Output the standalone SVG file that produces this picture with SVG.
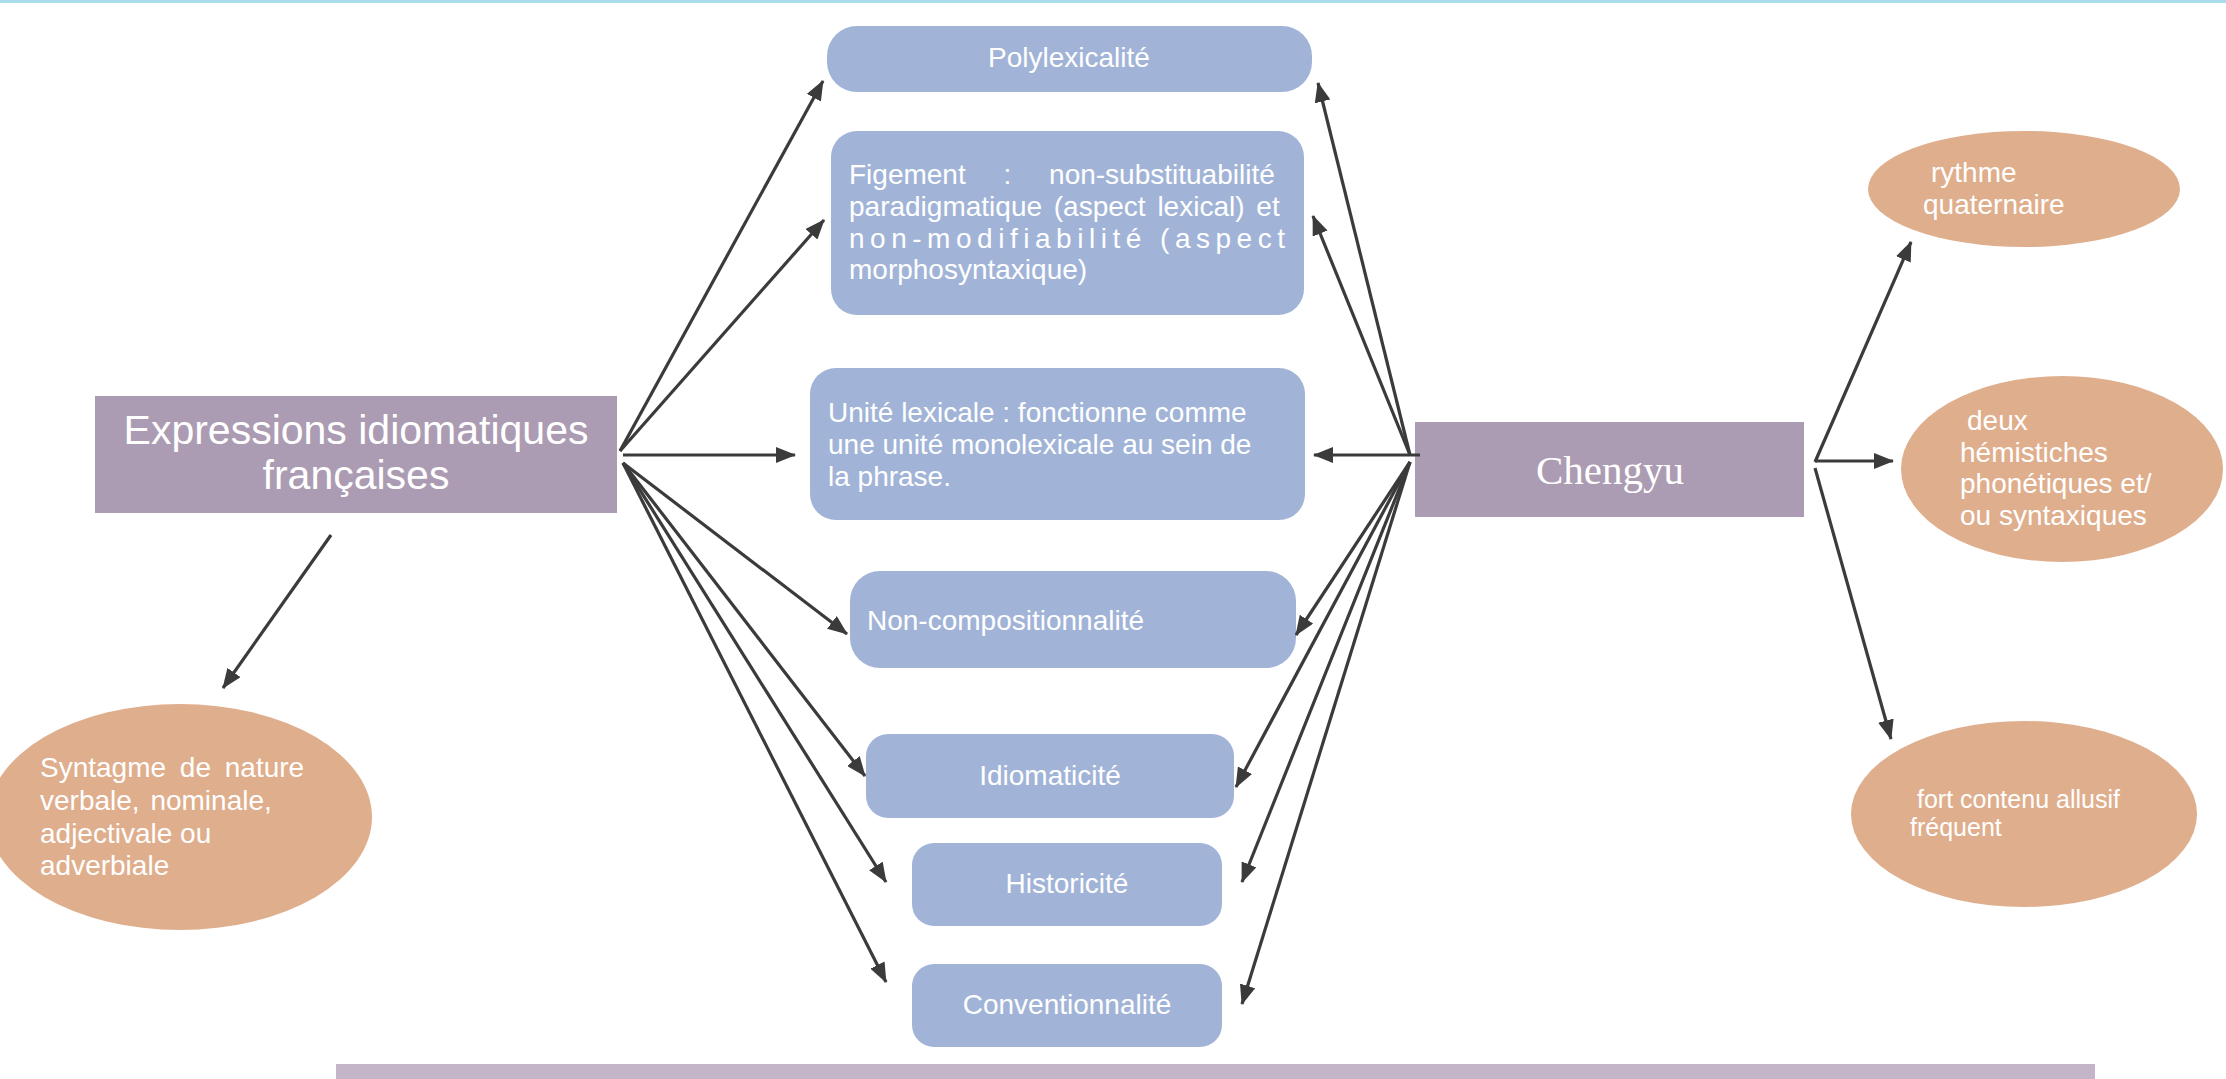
<svg xmlns="http://www.w3.org/2000/svg" width="2226" height="1079" viewBox="0 0 2226 1079">
<defs>
<marker id="ah" viewBox="0 0 20 16" refX="19" refY="8" markerWidth="20" markerHeight="16" markerUnits="userSpaceOnUse" orient="auto">
<path d="M0,0 L20,8 L0,16 z" fill="#3b3b3b"/>
</marker>
</defs>
<style>
.purple{fill:#ac9cb3}
.blue{fill:#a1b4d7}
.orange{fill:#dfae8d}
.t{font-family:"Liberation Sans",Arial,sans-serif;font-size:28px;fill:#ffffff}
.ts{font-family:"Liberation Sans",Arial,sans-serif;font-size:25px;fill:#ffffff}
.big{font-family:"Liberation Sans",Arial,sans-serif;font-size:41px;fill:#ffffff;text-anchor:middle}
.serif{font-family:"Liberation Serif","Times New Roman",serif;font-size:41px;fill:#ffffff;text-anchor:middle}
.c{text-anchor:middle}
.conn path{fill:none;stroke:#3b3b3b;stroke-width:3.2;marker-end:url(#ah)}
</style>
<rect x="0" y="0" width="2226" height="1079" fill="#ffffff"/>
<rect x="0" y="0" width="2226" height="3" fill="#a9dde9"/>
<rect x="336" y="1064" width="1759" height="15" fill="#c5b5c8"/>

<g id="expressions">
<rect class="purple" x="95" y="396" width="522" height="117"/>
<text class="big" x="356" y="444">Expressions idiomatiques</text>
<text class="big" x="356" y="489">françaises</text>
</g>

<g id="chengyu">
<rect class="purple" x="1415" y="422" width="389" height="95"/>
<text class="serif" x="1610" y="484">Chengyu</text>
</g>

<g id="polylexicalite">
<rect class="blue" x="827" y="26" width="485" height="66" rx="30"/>
<text class="t c" x="1069" y="67">Polylexicalité</text>
</g>

<g id="figement">
<rect class="blue" x="831" y="131" width="473" height="184" rx="26"/>
<text class="t" x="849" y="184" word-spacing="30">Figement : non-substituabilité</text>
<text class="t" x="849" y="216" word-spacing="4">paradigmatique (aspect lexical) et</text>
<text class="t" x="849" y="248" textLength="436" lengthAdjust="spacing">non-modifiabilité (aspect</text>
<text class="t" x="849" y="279">morphosyntaxique)</text>
</g>

<g id="unite">
<rect class="blue" x="810" y="368" width="495" height="152" rx="26"/>
<text class="t" x="828" y="422">Unité lexicale : fonctionne comme</text>
<text class="t" x="828" y="454">une unité monolexicale au sein de</text>
<text class="t" x="828" y="486">la phrase.</text>
</g>

<g id="noncomp">
<rect class="blue" x="850" y="571" width="446" height="97" rx="30"/>
<text class="t" x="867" y="630">Non-compositionnalité</text>
</g>

<g id="idiomaticite">
<rect class="blue" x="866" y="734" width="368" height="84" rx="22"/>
<text class="t c" x="1050" y="785">Idiomaticité</text>
</g>

<g id="historicite">
<rect class="blue" x="912" y="843" width="310" height="83" rx="22"/>
<text class="t c" x="1067" y="893">Historicité</text>
</g>

<g id="conventionnalite">
<rect class="blue" x="912" y="964" width="310" height="83" rx="22"/>
<text class="t c" x="1067" y="1014">Conventionnalité</text>
</g>

<g id="syntagme">
<ellipse class="orange" cx="180" cy="817" rx="192" ry="113"/>
<text class="t" x="40" y="777" word-spacing="6">Syntagme de nature</text>
<text class="t" x="40" y="810" word-spacing="3">verbale, nominale,</text>
<text class="t" x="40" y="843">adjectivale ou</text>
<text class="t" x="40" y="875">adverbiale</text>
</g>

<g id="rythme">
<ellipse class="orange" cx="2024" cy="189" rx="156" ry="58"/>
<text class="t" x="1931" y="182">rythme</text>
<text class="t" x="1923" y="214">quaternaire</text>
</g>

<g id="hemistiches">
<ellipse class="orange" cx="2062" cy="469" rx="161" ry="93"/>
<text class="t" x="1967" y="430">deux</text>
<text class="t" x="1960" y="462">hémistiches</text>
<text class="t" x="1960" y="493">phonétiques et/</text>
<text class="t" x="1960" y="525">ou syntaxiques</text>
</g>

<g id="allusif">
<ellipse class="orange" cx="2024" cy="814" rx="173" ry="93"/>
<text class="ts" x="1917" y="808">fort contenu allusif</text>
<text class="ts" x="1910" y="836">fréquent</text>
</g>

<g id="connectors" class="conn">
<path d="M620,451 L823,81"/>
<path d="M620,451 L824,220"/>
<path d="M623,455 L795,455"/>
<path d="M623,463 L847,634"/>
<path d="M623,463 L865,776"/>
<path d="M623,463 L886,882"/>
<path d="M623,463 L886,982"/>
<path d="M331,535 L223,688"/>
<path d="M1410,455 L1318,83"/>
<path d="M1410,455 L1313,216"/>
<path d="M1420,455 L1314,455"/>
<path d="M1410,462 L1296,635"/>
<path d="M1410,462 L1236,787"/>
<path d="M1410,462 L1242,882"/>
<path d="M1410,462 L1242,1004"/>
<path d="M1815,462 L1911,242"/>
<path d="M1815,461 L1893,461"/>
<path d="M1815,468 L1891,739"/>
</g>
</svg>
